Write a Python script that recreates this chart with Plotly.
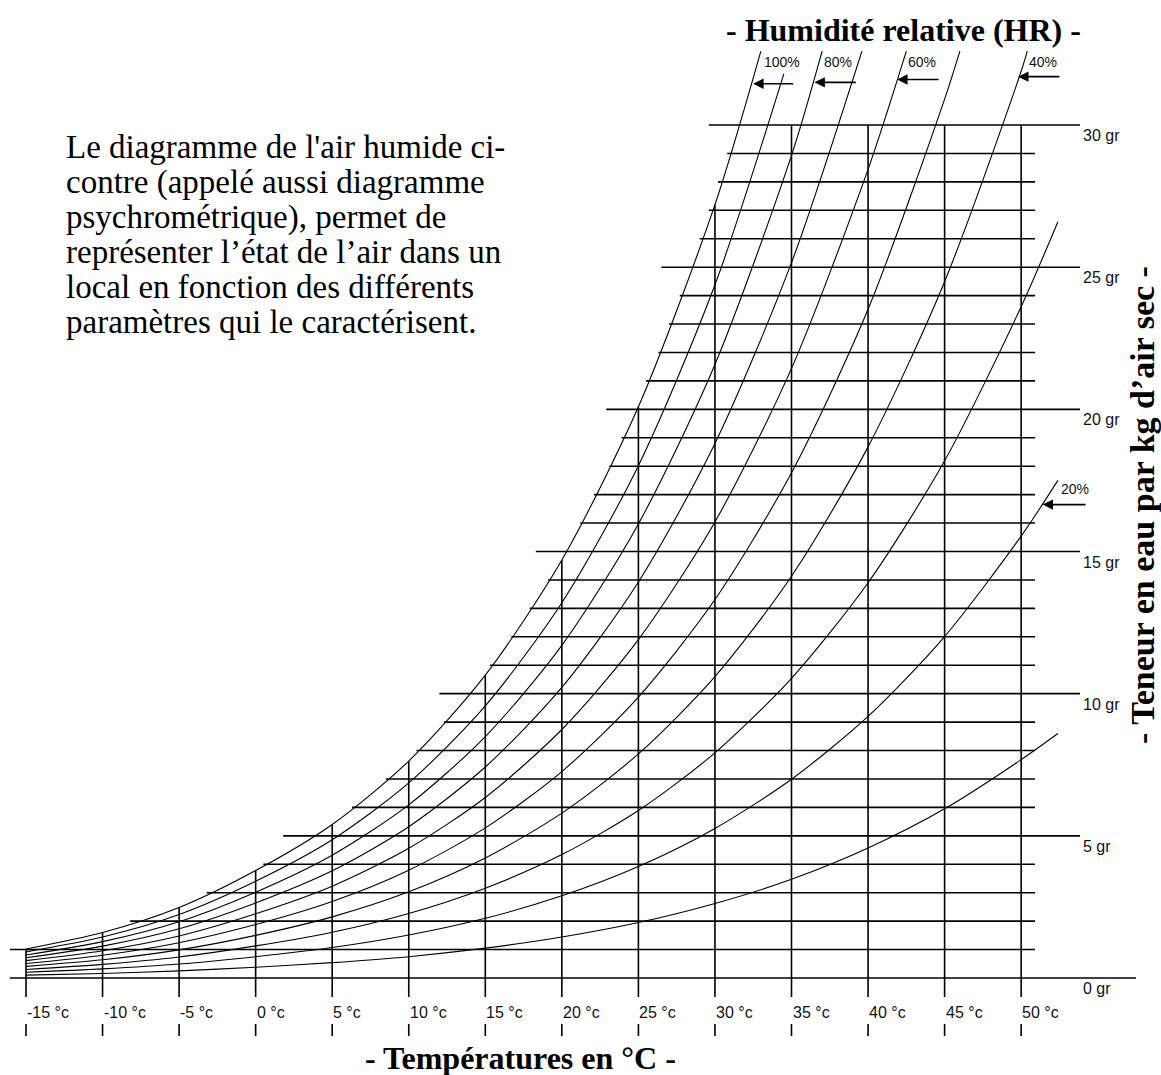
import plotly.graph_objects as go

# ---------------- data ----------------
temps = [-15, -10, -5, 0, 5, 10, 15, 20, 25, 30, 35, 40, 45, 50]

# water content (g / kg dry air) of each relative-humidity curve at the temperatures above
hr_100 = [1.02, 1.60, 2.48, 3.78, 5.40, 7.63, 10.65, 14.70, 20.09, 27.20]
hr_90 = [0.92, 1.44, 2.23, 3.40, 4.86, 6.86, 9.57, 13.20, 18.02, 24.38]
hr_80 = [0.81, 1.28, 1.98, 3.02, 4.32, 6.09, 8.49, 11.70, 15.97, 21.58, 28.93]
hr_70 = [0.71, 1.12, 1.73, 2.64, 3.77, 5.32, 7.42, 10.22, 13.93, 18.80, 25.16]
hr_60 = [0.61, 0.96, 1.48, 2.26, 3.23, 4.56, 6.35, 8.74, 11.90, 16.04, 21.44, 28.44]
hr_50 = [0.51, 0.80, 1.24, 1.88, 2.69, 3.79, 5.28, 7.26, 9.88, 13.31, 17.77, 23.52, 30.91]
hr_40 = [0.41, 0.64, 0.99, 1.50, 2.15, 3.03, 4.22, 5.80, 7.88, 10.60, 14.13, 18.68, 24.49, 31.89]
hr_30 = [0.30, 0.48, 0.74, 1.13, 1.61, 2.27, 3.16, 4.34, 5.89, 7.92, 10.54, 13.90, 18.19, 23.61]
hr_20 = [0.20, 0.32, 0.49, 0.75, 1.07, 1.51, 2.10, 2.89, 3.92, 5.26, 6.99, 9.20, 12.01, 15.54]
hr_10 = [0.10, 0.16, 0.25, 0.38, 0.54, 0.75, 1.05, 1.44, 1.95, 2.62, 3.47, 4.57, 5.95, 7.68]

hr_values = [100, 90, 80, 70, 60, 50, 40, 30, 20, 10]
hr_curves = [hr_100, hr_90, hr_80, hr_70, hr_60, hr_50, hr_40, hr_30, hr_20, hr_10]
# last point of each curve (temperature, water content)
hr_end_t = [33.0, 34.5, 37.0, 39.6, 42.5, 46.0, 50.4, 52.4, 52.4, 52.4]
hr_end_w = [32.6, 31.8, 32.6, 32.6, 32.6, 32.6, 32.6, 26.6, 17.5, 8.6]

hr_labels = ["100%", "80%", "60%", "40%", "20%"]

# horizontal water-content lines (g/kg) and the temperature where each one starts
gr_levels = list(range(0, 31))
gr_start_t = [-16.05, -16.05, -8.2, -3.2, 0.5, 1.8, 6.3, 8.5, 10.5, 12.3, 12.0,
              15.3, 16.7, 17.9, 19.1, 18.3, 21.2, 22.1, 23.1, 23.9, 22.9,
              25.5, 26.3, 27.0, 27.7, 26.5, 29.0, 29.6, 30.2, 30.8, 29.6]
gr_max_plot = 30

paragraph = [
    "Le diagramme de l'air humide ci-",
    "contre (appelé aussi diagramme",
    "psychrométrique), permet de",
    "représenter l’état de l’air dans un",
    "local en fonction des différents",
    "paramètres qui le caractérisent.",
]

# ---------------- pixel helpers (layout only) ----------------
PX_PER_C = 15.31
X0_PX = 26.0
PX_PER_G = 28.433
Y0_PX = 978.0


def tx(px):
    return -15 + (px - X0_PX) / PX_PER_C


def wy(py):
    return (Y0_PX - py) / PX_PER_G


W, H = 1161, 1075
fig = go.Figure()

SERIF = "Liberation Serif, Times New Roman, serif"
SANS = "Liberation Sans, Arial, sans-serif"
INK = "#000000"

# ---- horizontal lines ----
hx, hy = [], []
for g, t0 in zip(gr_levels, gr_start_t):
    if g == 0:
        t1 = tx(1136)
    elif g % 5 == 0:
        t1 = tx(1080)
    else:
        t1 = tx(1035)
    hx += [t0, t1, None]
    hy += [g, g, None]
fig.add_trace(go.Scatter(x=hx, y=hy, mode="lines", line=dict(color=INK, width=1.6),
                         hoverinfo="skip", showlegend=False))

# ---- vertical temperature lines ----
vx, vy = [], []
for i, t in enumerate(temps):
    top = hr_100[i] if i < len(hr_100) else gr_max_plot
    top = min(top, gr_max_plot)
    vx += [t, t, None]
    vy += [wy(997), top, None]
    vx += [t, t, None]
    vy += [wy(1024), wy(1036), None]
fig.add_trace(go.Scatter(x=vx, y=vy, mode="lines", line=dict(color=INK, width=1.6),
                         hoverinfo="skip", showlegend=False))

# ---- relative humidity curves ----
for hr, curve, te, we in zip(hr_values, hr_curves, hr_end_t, hr_end_w):
    xs = temps[:len(curve)] + [te]
    ys = curve + [we]
    fig.add_trace(go.Scatter(x=xs, y=ys, mode="lines",
                             line=dict(color=INK, width=1.1, shape="spline", smoothing=0.8),
                             hoverinfo="skip", showlegend=False, name=f"{hr}%"))

annotations = []

# ---- x tick labels ----
for t in temps:
    annotations.append(dict(x=t, y=wy(1012), xref="x", yref="y", text=f"{t} °c",
                            showarrow=False, xanchor="left", yanchor="middle", xshift=-1,
                            font=dict(family=SANS, size=16, color="#111")))

# ---- y labels ----
for g in gr_levels:
    if g % 5 == 0:
        annotations.append(dict(x=tx(1081), y=g, xref="x", yref="y", text=f"{g} gr",
                                showarrow=False, xanchor="left", yanchor="top", yshift=0,
                                font=dict(family=SANS, size=16, color="#111")))

# ---- HR labels and arrows ----
label_pos = {"100%": (33.1, 32.2), "80%": (37.0, 32.2), "60%": (42.5, 32.2),
             "40%": (50.4, 32.2), "20%": (52.5, 17.2)}
arrow_pos = {"100%": (35.2, 32.5, 31.45), "80%": (39.3, 36.5, 31.5),
             "60%": (44.7, 41.9, 31.6), "40%": (52.6, 49.8, 31.7),
             "20%": (54.3, 51.4, 16.65)}
for lab in hr_labels:
    lx, ly = label_pos[lab]
    annotations.append(dict(x=lx, y=ly, xref="x", yref="y", text=lab, showarrow=False,
                            xanchor="left", yanchor="middle",
                            font=dict(family=SANS, size=14, color="#111")))
    ax0, ax1, ay = arrow_pos[lab]
    annotations.append(dict(x=ax1, y=ay, ax=ax0, ay=ay, xref="x", yref="y",
                            axref="x", ayref="y", text="", showarrow=True,
                            arrowhead=2, arrowsize=1.3, arrowwidth=1.6,
                            arrowcolor=INK, standoff=0, startstandoff=0))

# ---- titles ----
annotations.append(dict(x=tx(903), y=wy(30), xref="x", yref="y",
                        text="<b>- Humidité relative (HR) -</b>", showarrow=False,
                        xanchor="center", yanchor="middle",
                        font=dict(family=SERIF, size=32, color=INK)))
annotations.append(dict(x=tx(520), y=wy(1058), xref="x", yref="y",
                        text="<b>- Températures en °C -</b>", showarrow=False,
                        xanchor="center", yanchor="middle",
                        font=dict(family=SERIF, size=32, color=INK)))
annotations.append(dict(x=tx(1142), y=wy(505), xref="x", yref="y",
                        text="<b>- Teneur en eau par kg d’air sec -</b>", showarrow=False,
                        xanchor="center", yanchor="middle", textangle=-90,
                        font=dict(family=SERIF, size=34, color=INK)))

# ---- paragraph ----
for i, line in enumerate(paragraph):
    annotations.append(dict(x=tx(64), y=wy(147 + 35 * i), xref="x", yref="y", text=line,
                            showarrow=False, xanchor="left", yanchor="middle",
                            font=dict(family=SERIF, size=33, color=INK)))

fig.update_layout(
    width=W, height=H, autosize=False,
    margin=dict(l=0, r=0, t=0, b=0, pad=0),
    paper_bgcolor="white", plot_bgcolor="white",
    xaxis=dict(range=[tx(0), tx(W)], visible=False, fixedrange=True),
    yaxis=dict(range=[wy(H), wy(0)], visible=False, fixedrange=True),
    annotations=annotations,
    showlegend=False,
)

fig.write_html("out.html", config={"displayModeBar": False},
               post_script="document.body.style.margin='0px';document.body.style.overflow='hidden';")
